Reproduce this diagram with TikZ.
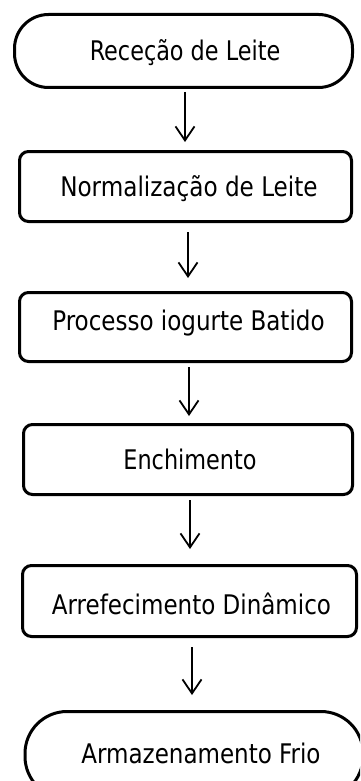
\documentclass[tikz,border=0pt]{standalone}
\usepackage{fontspec}
\usepackage{graphicx}
\setmainfont{DejaVu Sans Condensed}[FakeStretch=0.92]
\usetikzlibrary{arrows.meta}

% horizontally adjusted label text
\newcommand{\hsq}[2]{\scalebox{#1}[1]{#2}}

\tikzset{
  flowtext/.style={font=\fontsize{27}{32}\selectfont, text height=19.7pt, text depth=0pt, inner sep=0pt},
  stepbox/.style={flowtext, draw, line width=3pt, rounded corners=9pt},
  terminal/.style={flowtext, draw, line width=3pt, rounded corners=34pt},
  arr/.style={line width=1.8pt, -{Straight Barb[length=14pt,width=19pt,line width=1.8pt]}}
}

\begin{document}
\begin{tikzpicture}[x=1pt,y=-1pt]
  \useasboundingbox (0,0) rectangle (360,781);
  \fill[white] (0,0) rectangle (360,781);
  \clip (0,0) rectangle (360,781);

  % process steps, top to bottom
  \node[terminal, minimum width=338pt, minimum height=73pt] (t1) at (183.5,51) {\hspace*{3pt}Receção de Leite};
  \node[stepbox, minimum width=332pt, minimum height=70pt] (b2) at (185.5,186.5) {\hspace*{7pt}\hsq{1.035}{Normalização de Leite}};
  \node[stepbox, minimum width=332pt, minimum height=69pt, text depth=12pt] (b3) at (185.5,327) {\hspace*{6pt}\hsq{1.03}{Processo iogurte Batido}};
  \node[stepbox, minimum width=329pt, minimum height=70pt] (b4) at (188,459.5) {\hspace*{4pt}Enchimento};
  \node[stepbox, minimum width=334pt, minimum height=71pt, text height=27.7pt] (b5) at (189.5,601) {\hspace*{4pt}\hsq{1.03}{Arrefecimento Dinâmico}};
  \node[terminal, rounded corners=42pt, minimum width=338pt, minimum height=87pt, text depth=3pt] (t6) at (194,755) {\hspace*{14pt}\hsq{1.03}{Armazenamento Frio}};

  % connectors
  \draw[arr, shorten <=3pt, shorten >=8pt] ([xshift=1.5pt]t1.south) -- ([xshift=1.5pt]t1.south |- b2.north);
  \draw[arr, shorten <=9pt, shorten >=13pt] ([xshift=2.5pt]b2.south) -- ([xshift=2.5pt]b2.south |- b3.north);
  \draw[arr, shorten <=4pt, shorten >=7pt] ([xshift=3.5pt]b3.south) -- ([xshift=3.5pt]b3.south |- b4.north);
  \draw[arr, shorten <=4pt, shorten >=15pt] ([xshift=2pt]b4.south) -- ([xshift=2pt]b4.south |- b5.north);
  \draw[arr, shorten <=9pt, shorten >=15pt] ([xshift=2.5pt]b5.south) -- ([xshift=2.5pt]b5.south |- t6.north);
\end{tikzpicture}
\end{document}
